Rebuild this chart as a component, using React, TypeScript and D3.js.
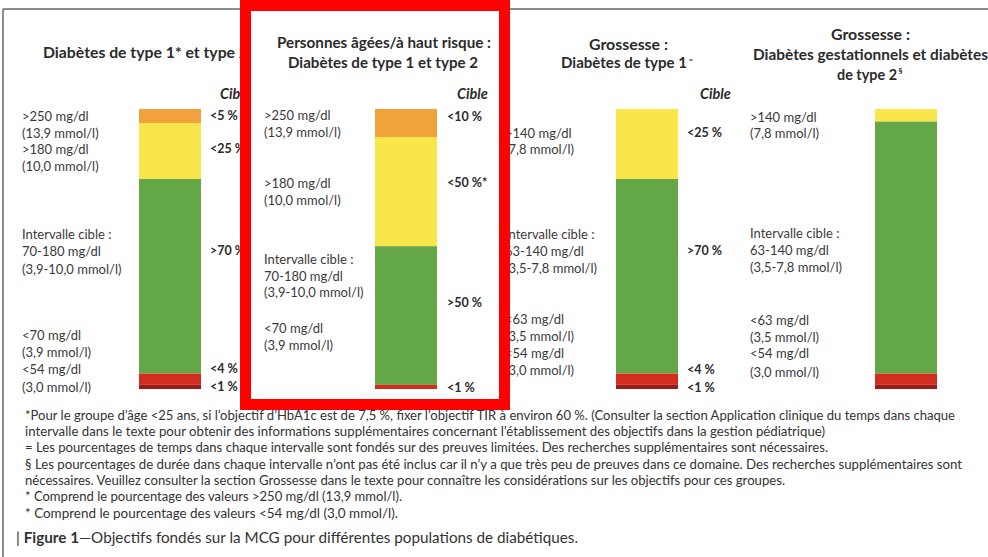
import React from "react";
import * as d3 from "d3";

// ---------- data ----------
const segmentColors: Record<string, string> = {
  veryHigh: "#F2A23C",
  high: "#F9E64B",
  target: "#63A746",
  low: "#D22D1F",
  veryLow: "#9A1B14",
};

const p1Keys = ["veryHigh", "high", "target", "low", "veryLow"];
const p1Values = [5, 20, 69.5, 4, 1.5];
const p1Targets = ["<5 %", "<25 %", ">70 %", "<4 %", "<1 %"];
const p1Ranges = [">250 mg/dl", "(13,9 mmol/l)", ">180 mg/dl", "(10,0 mmol/l)", "Intervalle cible :", "70-180 mg/dl", "(3,9-10,0 mmol/l)", "<70 mg/dl", "(3,9 mmol/l)", "<54 mg/dl", "(3,0 mmol/l)"];

const p2Keys = ["veryHigh", "high", "target", "low"];
const p2Values = [10, 39, 49.5, 1.5];
const p2Targets = ["<10 %", "<50 %*", ">50 %", "<1 %"];
const p2Ranges = [">250 mg/dl", "(13,9 mmol/l)", ">180 mg/dl", "(10,0 mmol/l)", "Intervalle cible :", "70-180 mg/dl", "(3,9-10,0 mmol/l)", "<70 mg/dl", "(3,9 mmol/l)"];

const p3Keys = ["high", "target", "low", "veryLow"];
const p3Values = [25, 69.5, 4, 1.5];
const p3Targets = ["<25 %", ">70 %", "<4 %", "<1 %"];
const p3Ranges = [">140 mg/dl", "(7,8 mmol/l)", "Intervalle cible :", "63-140 mg/dl", "(3,5-7,8 mmol/l)", "<63 mg/dl", "(3,5 mmol/l)", "<54 mg/dl", "(3,0 mmol/l)"];

const p4Keys = ["high", "target", "low", "veryLow"];
const p4Values = [4.5, 90, 4, 1.5];
const p4Targets: string[] = [];
const p4Ranges = [">140 mg/dl", "(7,8 mmol/l)", "Intervalle cible :", "63-140 mg/dl", "(3,5-7,8 mmol/l)", "<63 mg/dl", "(3,5 mmol/l)", "<54 mg/dl", "(3,0 mmol/l)"];

// title lines: [text, superscript]
const p1Title: [string, string][] = [["Diabètes de type 1* et type 2", ""]];
const p2Title: [string, string][] = [["Personnes âgées/à haut risque :", ""], ["Diabètes de type 1 et type 2", ""]];
const p3Title: [string, string][] = [["Grossesse :", ""], ["Diabètes de type 1", "="]];
const p4Title: [string, string][] = [["Grossesse :", ""], ["Diabètes gestationnels et diabètes", ""], ["de type 2", "§"]];

const targetHeader = "Cible";

const footnotes = [
  "*Pour le groupe d’âge <25 ans, si l’objectif d’HbA1c est de 7,5 %, fixer l’objectif TIR à environ 60 %. (Consulter la section Application clinique du temps dans chaque",
  "intervalle dans le texte pour obtenir des informations supplémentaires concernant l’établissement des objectifs dans la gestion pédiatrique)",
  "= Les pourcentages de temps dans chaque intervalle sont fondés sur des preuves limitées. Des recherches supplémentaires sont nécessaires.",
  "§ Les pourcentages de durée dans chaque intervalle n’ont pas été inclus car il n’y a que très peu de preuves dans ce domaine. Des recherches supplémentaires sont",
  "nécessaires. Veuillez consulter la section Grossesse dans le texte pour connaître les considérations sur les objectifs pour ces groupes.",
  "* Comprend le pourcentage des valeurs >250 mg/dl (13,9 mmol/l).",
  "* Comprend le pourcentage des valeurs <54 mg/dl (3,0 mmol/l).",
];
const captionBold = "Figure 1";
const captionRest = "—Objectifs fondés sur la MCG pour différentes populations de diabétiques.";

// ---------- layout ----------
const W = 988;
const H = 557;
const BAR_W = 62;
const y = d3.scaleLinear().domain([0, 100]).range([109, 389]);

const panels = [
  { keys: p1Keys, values: p1Values, targets: p1Targets, ranges: p1Ranges, title: p1Title,
    labelX: 22, barX: 139, targetX: 210, cibleX: 220,
    titleXs: [43], titleLens: [205], titleYs: [53],
    rangeYs: [116, 133, 149, 166, 234, 251, 269, 335, 352, 369, 387], targetYs: [116, 149, 251, 369, 387] },
  { keys: p2Keys, values: p2Values, targets: p2Targets, ranges: p2Ranges, title: p2Title,
    labelX: 264, barX: 375, targetX: 447, cibleX: 457,
    titleXs: [277, 288], titleLens: [214, 190], titleYs: [43, 63],
    rangeYs: [115, 132, 183, 200, 259, 276, 292, 328, 345], targetYs: [117, 183, 303, 388] },
  { keys: p3Keys, values: p3Values, targets: p3Targets, ranges: p3Ranges, title: p3Title,
    labelX: 505, barX: 616, targetX: 687, cibleX: 700,
    titleXs: [589, 561], titleLens: [79, 126], titleYs: [45, 63],
    rangeYs: [133, 149, 234, 251, 268, 319, 336, 353, 370], targetYs: [133, 251, 370, 388] },
  { keys: p4Keys, values: p4Values, targets: p4Targets, ranges: p4Ranges, title: p4Title,
    labelX: 750, barX: 875, targetX: 944, cibleX: -1,
    titleXs: [831, 753, 837], titleLens: [79, 235, 60], titleYs: [35, 55, 75],
    rangeYs: [117, 133, 233, 250, 267, 320, 337, 353, 372], targetYs: [] as number[] },
];

const footYs = [416, 432, 448, 465, 481, 497, 514];
const footLens = [930, 800, 803, 937, 760, 377, 373];

const FONT = "Lato, 'Open Sans', sans-serif";

export default function App() {
  return (
    <svg
      width={W}
      height={H}
      viewBox={`0 0 ${W} ${H}`}
      style={{ position: "absolute", left: 0, top: 0, background: "#fff", fontFamily: FONT }}
    >
      <rect x={0} y={0} width={W} height={H} fill="#fff" />
      {/* frame */}
      <line x1={3} y1={9} x2={W} y2={9} stroke="#666" strokeWidth={1.5} />
      <line x1={3} y1={9} x2={3} y2={H} stroke="#666" strokeWidth={1.5} />

      {panels.map((p, pi) => {
        const cum = d3.cumsum(p.values);
        return (
          <g key={pi}>
            {p.title.map(([t, sup], i) => (
              <g key={i}>
                <text x={p.titleXs[i]} y={p.titleYs[i]} dy="0.35em"
                  fontSize={14.5} fontWeight={700} fill="#2b2b2b"
                  textLength={p.titleLens[i]} lengthAdjust="spacingAndGlyphs">
                  {t}
                </text>
                {sup && (
                  <text x={p.titleXs[i] + p.titleLens[i] + 1.5} y={p.titleYs[i] - 4} dy="0.35em"
                    fontSize={8} fontWeight={700} fill="#2b2b2b">
                    {sup}
                  </text>
                )}
              </g>
            ))}
            {p.cibleX > 0 && (
              <text x={p.cibleX} y={94} dy="0.35em" fontSize={14.5} fontWeight={700} fontStyle="italic" fill="#2b2b2b">
                {targetHeader}
              </text>
            )}
            {p.values.map((v, i) => {
              const y0 = y(cum[i] - v);
              const y1 = y(cum[i]);
              return (
                <rect key={i} x={p.barX} y={y0} width={BAR_W} height={y1 - y0}
                  fill={segmentColors[p.keys[i]]} />
              );
            })}
            {p.ranges.map((t, i) => (
              <text key={i} x={p.labelX} y={p.rangeYs[i]} dy="0.35em" fontSize={13} fill="#3a3a3a">
                {t}
              </text>
            ))}
            {p.targets.map((t, i) => (
              <text key={i} x={p.targetX} y={p.targetYs[i]} dy="0.35em" fontSize={12.5} fontWeight={700} fill="#2b2b2b">
                {t}
              </text>
            ))}
          </g>
        );
      })}

      {footnotes.map((t, i) => (
        <text key={i} x={25} y={footYs[i]} dy="0.35em" fontSize={12.5} fill="#333"
          textLength={footLens[i]} lengthAdjust="spacingAndGlyphs">
          {t}
        </text>
      ))}
      <text x={16} y={538} dy="0.35em" fontSize={15} fill="#333" textLength={562} lengthAdjust="spacingAndGlyphs">
        {"| "}
        <tspan fontWeight={700}>{captionBold}</tspan>
        {captionRest}
      </text>

      {/* highlight box */}
      <rect x={245.5} y={5.5} width={259} height={399} fill="none" stroke="#FF0000" strokeWidth={11} />
    </svg>
  );
}
